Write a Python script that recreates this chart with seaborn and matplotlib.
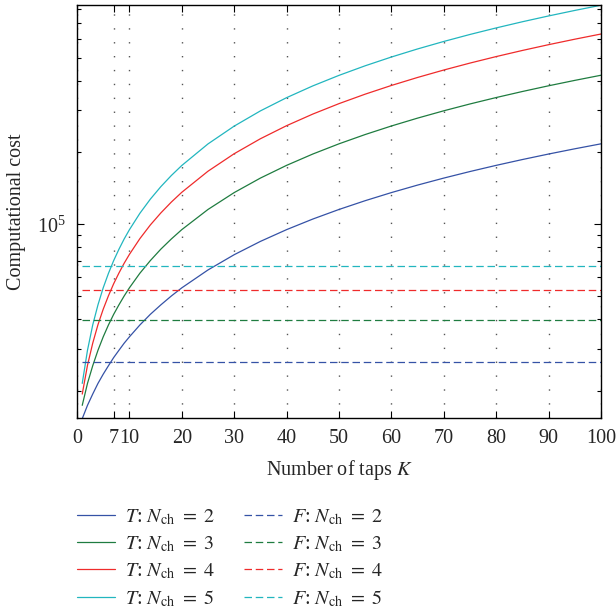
import numpy as np
import pandas as pd
import seaborn as sns
import matplotlib.pyplot as plt
from matplotlib.ticker import FixedLocator, LogLocator, NullFormatter

taps = [1, 2, 3, 4, 5, 6, 7, 8, 9, 10, 12, 14, 16, 18, 20, 25, 30, 35, 40, 45,
        50, 55, 60, 65, 70, 75, 80, 85, 90, 95, 100]

# time-domain cost T for N_ch = 2..5
cost_t2 = [15300, 17400, 19400, 21500, 23500, 25500, 27600, 29600, 31700, 33700,
           37800, 41900, 45900, 50000, 54100, 64300, 74500, 84700, 94900, 105100,
           115300, 125500, 135700, 145900, 156100, 166300, 176500, 186700, 196900,
           207100, 217300]
cost_t3 = [17400, 21500, 25500, 29600, 33700, 37800, 41900, 45900, 50000, 54100,
           62300, 70400, 78600, 86700, 94900, 115300, 135700, 156100, 176500, 196900,
           217300, 237700, 258100, 278500, 298900, 319300, 339700, 360100, 380500,
           400900, 421300]
cost_t4 = [19400, 25600, 31700, 37900, 44000, 50100, 56300, 62400, 68600, 74700,
           87000, 99300, 111500, 123800, 136100, 166800, 197500, 228200, 258900, 289600,
           320300, 351000, 381700, 412400, 443100, 473800, 504500, 535200, 565900,
           596600, 627300]
cost_t5 = [21500, 29600, 37800, 45900, 54100, 62200, 70400, 78500, 86700, 94800,
           111100, 127400, 143700, 160000, 176300, 217100, 257800, 298600, 339300, 380100,
           420800, 461600, 502300, 543100, 583800, 624600, 665300, 706100, 746800,
           787600, 828300]

# frequency-domain cost F (flat in K)
f_taps = [1, 100]
cost_f = {2: 26500, 3: 39700, 4: 53000, 5: 66700}

nch = [2, 3, 4, 5]
colors = ["#3552a6", "#1f7c40", "#ef2b2b", "#22b6bf"]
x_ticks = [0, 7, 10, 20, 30, 40, 50, 60, 70, 80, 90, 100]

sns.set_style("ticks")
plt.rcParams["font.family"] = ["Liberation Serif", "DejaVu Serif"]
plt.rcParams["mathtext.fontset"] = "stix"
fs = 14.5

fig = plt.figure(figsize=(6.16, 6.11), dpi=100)
ax = fig.add_axes([0.125, 0.3159, 0.8506, 0.6759])

t_series = [cost_t2, cost_t3, cost_t4, cost_t5]
for n, vals, c in zip(nch, t_series, colors):
    df = pd.DataFrame({"K": taps, "cost": vals})
    sns.lineplot(data=df, x="K", y="cost", ax=ax, color=c, lw=0.9,
                 label=f"$T$: $N_{{\\rm ch}}\\ =\\ {n}$")
for n, c in zip(nch, colors):
    df = pd.DataFrame({"K": f_taps, "cost": [cost_f[n]] * 2})
    sns.lineplot(data=df, x="K", y="cost", ax=ax, color=c, lw=0.9,
                 linestyle=(0, (6, 3)), label=f"$F$: $N_{{\\rm ch}}\\ =\\ {n}$")

ax.set_yscale("log")
ax.set_xlim(0, 100)
ax.set_ylim(1.54e4, 8.3e5)
ax.xaxis.set_major_locator(FixedLocator(x_ticks))
ax.yaxis.set_minor_locator(LogLocator(base=10, subs=np.arange(2, 10)))
ax.yaxis.set_minor_formatter(NullFormatter())

ax.xaxis.grid(True, color="#555555", linestyle=(0, (1, 9)), lw=1.0)
ax.yaxis.grid(False)
ax.tick_params(which="both", direction="in", top=True, right=True, labelsize=fs,
               color="black", width=0.8)
ax.tick_params(which="major", length=5, pad=8)
ax.tick_params(which="minor", length=3)
for s in ax.spines.values():
    s.set_linewidth(1.0)
    s.set_color("black")

ax.set_xlabel("Number of taps $K$", fontsize=fs, labelpad=7)
ax.set_ylabel("Computational cost", fontsize=fs, labelpad=8)

ax.legend(loc="upper left", bbox_to_anchor=(0.125, 0.169), bbox_transform=fig.transFigure,
          ncol=2, frameon=False, fontsize=fs, handlelength=1.9, handletextpad=0.5,
          columnspacing=1.4, labelspacing=0.36, borderpad=0, borderaxespad=0)

fig.savefig("out.png", dpi=100)
